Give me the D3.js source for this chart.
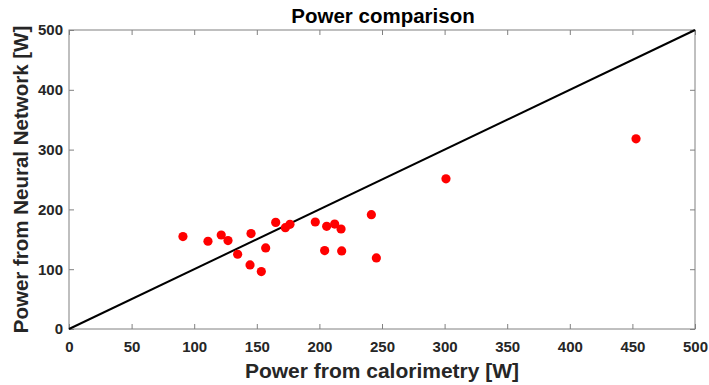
<!DOCTYPE html>
<html>
<head>
<meta charset="utf-8">
<script src="https://cdn.jsdelivr.net/npm/d3@7"></script>
<style>
  body { margin: 0; background: #fff; }
  text { font-family: "Liberation Sans", Arial, sans-serif; }
</style>
</head>
<body>
<div id="chart"></div>
<script>
const calorimetry = [91, 111, 121.6, 127, 134.7, 145.4, 144.6, 153.6, 157.1, 165.1, 172.8, 176.5,
  196.7, 204.2, 205.8, 212.2, 217.3, 217.8, 241.5, 245.5, 301.1, 452.9];
const neuralNet = [154.5, 146.7, 157.2, 147.8, 125, 159.5, 107.2, 96.1, 135.5, 178.3, 169.4, 175,
  178.9, 131.1, 171.7, 175.5, 167.2, 130.6, 191.1, 118.9, 251.1, 318];
const xTicks = [0, 50, 100, 150, 200, 250, 300, 350, 400, 450, 500];
const yTicks = [0, 100, 200, 300, 400, 500];

const W = 709, H = 385;
const margin = { left: 69, right: 14, top: 30, bottom: 56 };
const iw = W - margin.left - margin.right;
const ih = H - margin.top - margin.bottom;

const svg = d3.select("#chart").append("svg")
  .attr("width", W).attr("height", H);

const x = d3.scaleLinear().domain([0, 500]).range([0, iw]);
const y = d3.scaleLinear().domain([0, 500]).range([ih, 0]);

const g = svg.append("g").attr("transform", `translate(${margin.left},${margin.top})`);

const axisColor = "#808080";
const labelColor = "#262626";

function styleAxis(sel, showLabels) {
  sel.select(".domain").remove();
  sel.selectAll(".tick line").attr("stroke", axisColor);
  sel.selectAll(".tick text")
    .attr("fill", labelColor)
    .style("font-size", "15px")
    .style("font-weight", "bold")
    .style("display", showLabels ? null : "none");
}

g.append("g").attr("transform", `translate(0,${ih})`)
  .call(d3.axisBottom(x).tickValues(xTicks).tickSize(-5).tickPadding(12))
  .call(s => styleAxis(s, true));
g.append("g")
  .call(d3.axisTop(x).tickValues(xTicks).tickSize(-5))
  .call(s => styleAxis(s, false));
g.append("g")
  .call(d3.axisLeft(y).tickValues(yTicks).tickSize(-5).tickPadding(6))
  .call(s => styleAxis(s, true));
g.append("g").attr("transform", `translate(${iw},0)`)
  .call(d3.axisRight(y).tickValues(yTicks).tickSize(-5))
  .call(s => styleAxis(s, false));

g.append("rect")
  .attr("width", iw).attr("height", ih)
  .attr("fill", "none").attr("stroke", axisColor).attr("stroke-width", 1);

// identity line
g.append("line")
  .attr("x1", x(0)).attr("y1", y(0))
  .attr("x2", x(500)).attr("y2", y(500))
  .attr("stroke", "#000").attr("stroke-width", 2);

const points = calorimetry.map((c, i) => ({ c, n: neuralNet[i] }));
g.selectAll(".pt")
  .data(points)
  .join("circle")
  .attr("class", "pt")
  .attr("cx", d => x(d.c))
  .attr("cy", d => y(d.n))
  .attr("r", 4.6)
  .attr("fill", "#ff0000");

svg.append("text")
  .attr("x", margin.left + iw / 2 + 1).attr("y", 23)
  .attr("text-anchor", "middle")
  .style("font-size", "20.5px").style("font-weight", "bold")
  .attr("fill", "#000")
  .text("Power comparison");

svg.append("text")
  .attr("x", margin.left + iw / 2).attr("y", 378)
  .attr("text-anchor", "middle")
  .style("font-size", "21px").style("font-weight", "bold")
  .attr("fill", labelColor)
  .text("Power from calorimetry [W]");

svg.append("text")
  .attr("transform", `translate(28,${margin.top + ih / 2}) rotate(-90)`)
  .attr("text-anchor", "middle")
  .style("font-size", "20.5px").style("font-weight", "bold")
  .attr("fill", labelColor)
  .text("Power from Neural Network [W]");
</script>
</body>
</html>
